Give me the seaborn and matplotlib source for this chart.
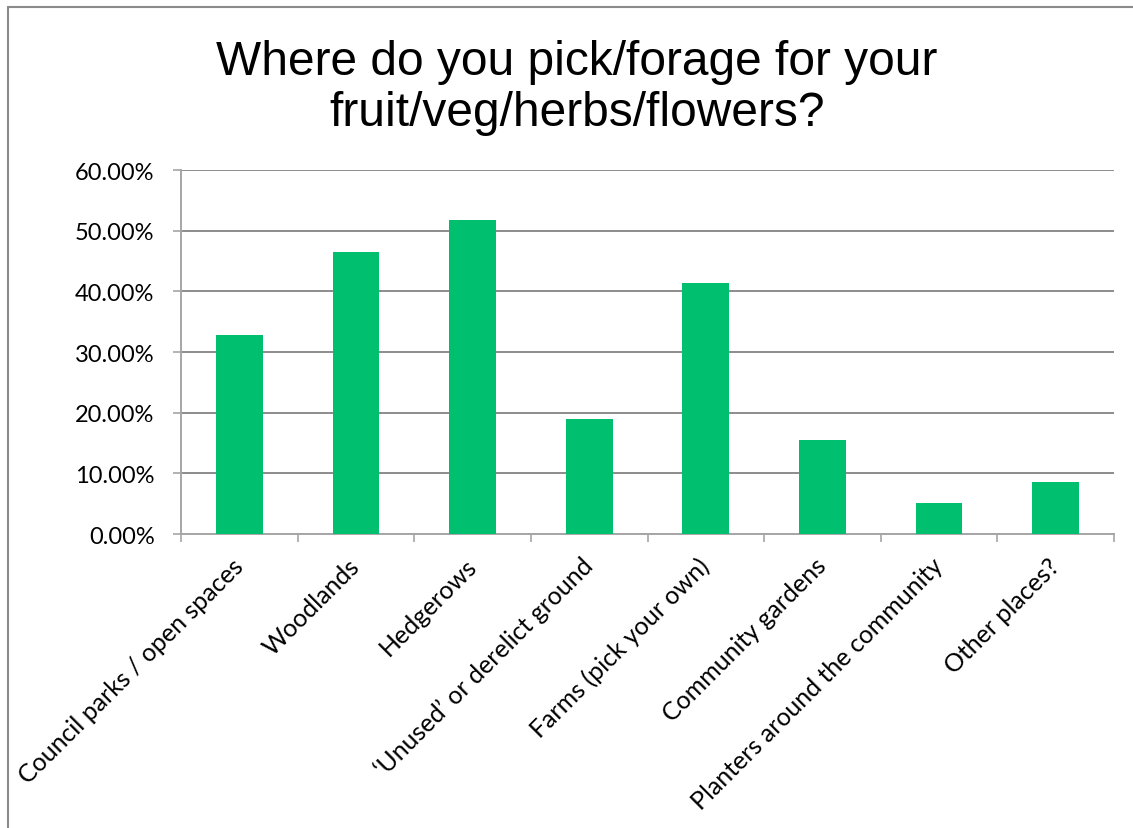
import matplotlib
matplotlib.use("Agg")
import matplotlib.pyplot as plt
from matplotlib.lines import Line2D
from matplotlib.ticker import FixedLocator, PercentFormatter
import seaborn as sns
import pandas as pd
import numpy as np

# Survey answers: share of respondents naming each place
categories = [
    "Council parks / open spaces",
    "Woodlands",
    "Hedgerows",
    "\u2018Unused\u2019 or derelict ground",
    "Farms (pick your own)",
    "Community gardens",
    "Planters around the community",
    "Other places?",
]
shares = [32.76, 46.55, 51.72, 18.97, 41.38, 15.52, 5.17, 8.62]
y_ticks = [0, 10, 20, 30, 40, 50, 60]

title_text = "Where do you pick/forage for your\nfruit/veg/herbs/flowers?"

bar_color = "#00BF6F"
grid_color = "#8C8C8C"
axis_color = "#A6A6A6"

sns.set_theme(style="white")
plt.rcParams["font.family"] = ["Lato", "DejaVu Sans"]
plt.rcParams["text.color"] = "black"

df = pd.DataFrame({"place": categories, "share": shares})

fig = plt.figure(figsize=(11.33, 8.29), dpi=100)
ax = fig.add_axes([181 / 1133, 1 - 535 / 829, (1114 - 181) / 1133, (535 - 171) / 829])

sns.barplot(data=df, x="place", y="share", color=bar_color, width=0.4,
            saturation=1, ax=ax, zorder=3, edgecolor="none")

ax.set_ylim(0, 60)
ax.set_xlim(-0.5, len(categories) - 0.5)
ax.yaxis.set_major_locator(FixedLocator(y_ticks))
ax.yaxis.set_major_formatter(PercentFormatter(decimals=2))
ax.yaxis.grid(True, color=grid_color, linewidth=1.4, zorder=0)
ax.xaxis.grid(False)
ax.set_xlabel("")
ax.set_ylabel("")

for side in ("top", "right"):
    ax.spines[side].set_visible(False)
for side in ("left", "bottom"):
    ax.spines[side].set_color(axis_color)
    ax.spines[side].set_linewidth(1.4)

ax.tick_params(axis="y", which="major", length=6, width=1.2, color=axis_color,
               direction="out", left=True, labelsize=17, pad=13, labelcolor="black")

# category ticks sit on the boundaries between bars
ax.set_xticks(np.arange(len(categories)))
ax.set_xticklabels(categories, rotation=45, ha="right", va="center",
                   rotation_mode="anchor", fontsize=18)
ax.tick_params(axis="x", which="major", length=0, pad=20, labelcolor="black")
ax.set_xticks(np.arange(len(categories) + 1) - 0.5, minor=True)
ax.tick_params(axis="x", which="minor", length=6, width=1.2, color=axis_color,
               direction="out", bottom=True)

fig.text(577 / 1133, 1 - 88 / 829, title_text, ha="center", va="center",
         fontsize=34.5, color="black",
         family=["Liberation Sans", "DejaVu Sans"], linespacing=1.15)

# outer frame of the chart area (left and top edges)
fig.add_artist(Line2D([8 / 1133, 8 / 1133], [0, 1 - 8 / 829],
                      transform=fig.transFigure, color="#8A8A8A", linewidth=1.5))
fig.add_artist(Line2D([8 / 1133, 1], [1 - 8 / 829, 1 - 8 / 829],
                      transform=fig.transFigure, color="#8A8A8A", linewidth=1.5))

fig.savefig("out.png", dpi=100, facecolor="white")
